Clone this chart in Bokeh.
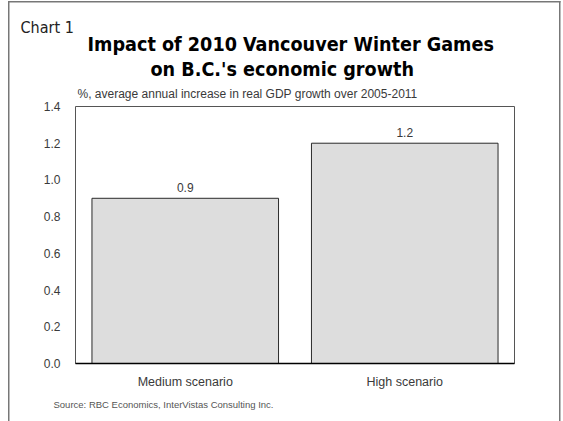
from bokeh.plotting import figure
from bokeh.models import (ColumnDataSource, LabelSet, Title,
                          FixedTicker, Range1d, NumeralTickFormatter)
from bokeh.core.properties import value
from bokeh.embed import file_html
from bokeh.resources import INLINE

categories = ["Medium scenario", "High scenario"]
values = [0.9, 1.2]
value_labels = ["0.9", "1.2"]
y_ticks = [0.0, 0.2, 0.4, 0.6, 0.8, 1.0, 1.2, 1.4]

chart_label = "Chart 1"
title_line1 = "Impact of 2010 Vancouver Winter Games"
title_line2 = "on B.C.'s economic growth"
subtitle = "%, average annual increase in real GDP growth over 2005-2011"
source_note = "Source:  RBC Economics, InterVistas Consulting Inc."

W, H = 563, 421
FL, FR, FT, FB = 75, 514, 106, 363   # frame edges in page pixels
COND = "DejaVu Sans Condensed"
REG = "Liberation Sans"
TXT = "#3a3a3a"

src = ColumnDataSource(dict(cat=categories, val=values, lab=value_labels))

p = figure(width=W, height=H, x_range=categories, y_range=Range1d(0, 1.4),
           output_backend="svg", toolbar_location=None,
           min_border_left=FL, min_border_right=W - FR,
           min_border_top=FT, min_border_bottom=H - FB)

p.vbar(x="cat", top="val", width=0.85, source=src,
       fill_color="#dddddd", line_color="#2a2a2a", line_width=1)

p.add_layout(LabelSet(x="cat", y="val", text="lab", source=src,
                      y_offset=6, text_align="center", text_baseline="bottom",
                      text_font=value(REG), text_font_size=value("12px"),
                      text_color=TXT))

p.xgrid.visible = False
p.ygrid.visible = False
p.outline_line_color = "#555555"
p.outline_line_width = 1

p.yaxis.ticker = FixedTicker(ticks=y_ticks)
p.yaxis.formatter = NumeralTickFormatter(format="0.0")
p.yaxis.axis_line_color = None
p.yaxis.major_tick_line_color = None
p.yaxis.minor_tick_line_color = None
p.yaxis.major_label_standoff = 9
p.yaxis.major_label_text_font = REG
p.yaxis.major_label_text_font_size = "12px"
p.yaxis.major_label_text_color = TXT

p.xaxis.axis_line_color = "#000000"
p.xaxis.axis_line_width = 1.5
p.xaxis.major_tick_line_color = None
p.xaxis.minor_tick_line_color = None
p.xaxis.major_label_standoff = 5
p.xaxis.major_label_text_font = REG
p.xaxis.major_label_text_font_size = "12.5px"
p.xaxis.major_label_text_color = TXT

p.background_fill_color = "white"
p.border_fill_color = None

# outer frame drawn as CSS background lines on the figure element
g = "linear-gradient(#777777,#777777)"
p.styles = {"background": (
    f"{g} 8px 1px / 1.5px 420px no-repeat, "
    f"{g} 559px 1px / 1.5px 420px no-repeat, "
    f"{g} 8px 1px / 552.5px 1.5px no-repeat, white")}

def title(text, font, size, color, style="normal", align="left", offset=0,
          standoff=0, loc="above"):
    t = Title(text=text, text_font=font, text_font_size=size,
              text_font_style=style, text_color=color, align=align,
              offset=offset, standoff=standoff)
    p.add_layout(t, loc)
    return t

def spacer(height, loc="above"):
    p.add_layout(Title(text=" ", text_font=REG, text_font_size="1px",
                       standoff=max(height - 1, 0)), loc)

# stacked from the frame outwards
spacer(3.6)
title(subtitle, REG, "12px", TXT, offset=2)
spacer(2)
title(title_line2, COND, "19.6px", "#000000", "bold", offset=75)
title(title_line1, COND, "19.6px", "#000000", "bold", offset=12)
title(chart_label, COND, "16px", "#222222", offset=20 - FL, standoff=-12)
title(source_note, REG, "9.5px", "#555555", offset=53 - FL, standoff=10,
      loc="below")

open("out.html", "w").write(file_html(p, INLINE))
